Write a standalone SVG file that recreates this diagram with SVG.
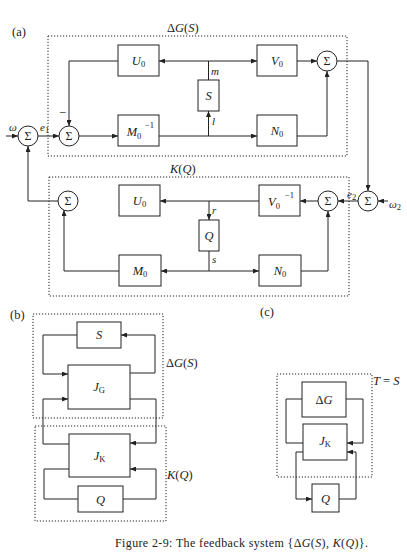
<svg xmlns="http://www.w3.org/2000/svg" width="407" height="559" viewBox="0 0 407 559">
<defs>
<marker id="ah" markerWidth="7" markerHeight="5" refX="6" refY="2.5" orient="auto" markerUnits="userSpaceOnUse">
<path d="M0,0 L6,2.5 L0,5 z" fill="#222"/>
</marker>
<style>
.blk{fill:#fff;stroke:#222;stroke-width:1}
.dot{fill:none;stroke:#222;stroke-width:1;stroke-dasharray:1.2 1.8}
.ln{fill:none;stroke:#222;stroke-width:1}
.ar{fill:none;stroke:#222;stroke-width:1;marker-end:url(#ah)}
.sum{fill:#fff;stroke:#222;stroke-width:1}
text{font-family:"Liberation Serif","DejaVu Serif",serif;fill:#222}
.lb{font-size:12.5px;font-style:italic;text-anchor:middle}
.sg{font-size:12px;text-anchor:middle}
.sm{font-size:11px;font-style:italic}
.sub{font-size:8.5px;font-style:normal}
.tl{font-size:12.5px}
</style>
</defs>
<rect width="407" height="559" fill="#fff"/>

<text class="tl" x="12" y="36">(a)</text>
<text class="tl" x="10" y="319">(b)</text>
<text class="tl" x="260" y="316">(c)</text>

<g id="frames">
<rect class="dot" x="48" y="36" width="299" height="120"/>
<rect class="dot" x="49" y="177" width="300" height="119"/>
<rect class="dot" x="33" y="314" width="130" height="104"/>
<rect class="dot" x="35" y="426" width="131" height="95"/>
<rect class="dot" x="277" y="374" width="95" height="103"/>
<text class="tl" x="167" y="32"><tspan>Δ</tspan><tspan font-style="italic">G</tspan>(<tspan font-style="italic">S</tspan>)</text>
<text class="tl" x="170" y="173"><tspan font-style="italic">K</tspan>(<tspan font-style="italic">Q</tspan>)</text>
<text class="tl" x="166" y="367"><tspan>Δ</tspan><tspan font-style="italic">G</tspan>(<tspan font-style="italic">S</tspan>)</text>
<text class="tl" x="167" y="479"><tspan font-style="italic">K</tspan>(<tspan font-style="italic">Q</tspan>)</text>
<text class="tl" x="373" y="385"><tspan font-style="italic">T</tspan> = <tspan font-style="italic">S</tspan></text>
</g>

<g id="connectors">
<polyline class="ln" points="208.5,80 208.5,61"/>
<polyline class="ar" points="208.5,61 159,61"/>
<polyline class="ar" points="208.5,61 257,61"/>
<polyline class="ar" points="118,61 69,61 69,126"/>
<polyline class="ar" points="6,136 18,136"/>
<polyline class="ar" points="38,136 59,136"/>
<polyline class="ar" points="79,136 118,136"/>
<polyline class="ar" points="159,136 257,136"/>
<polyline class="ar" points="208.5,136 208.5,111"/>
<polyline class="ar" points="297,61 317,61"/>
<polyline class="ar" points="297,136 327,136 327,71"/>
<polyline class="ar" points="337,61 368,61 368,191"/>
<polyline class="ar" points="388,201 378,201"/>
<polyline class="ar" points="358,201 338,201"/>
<polyline class="ar" points="318,201 300,201"/>
<polyline class="ar" points="259,201 160,201"/>
<polyline class="ar" points="209,201 209,220"/>
<polyline class="ln" points="209,251 209,271"/>
<polyline class="ar" points="209,271 161,271"/>
<polyline class="ar" points="209,271 259,271"/>
<polyline class="ar" points="301,271 328,271 328,211"/>
<polyline class="ar" points="119,271 64,271 64,210"/>
<polyline class="ar" points="58,201 28,201 28,146"/>
<polyline class="ar" points="77,335 43,335 43,374 68,374"/>
<polyline class="ar" points="130,373 155,373 155,335 121,335"/>
<polyline class="ar" points="69,444 43,444 43,399 68,399"/>
<polyline class="ar" points="130,399 156,399 156,443 130,443"/>
<polyline class="ln" points="69,469 44,469 44,499 78,499"/>
<polyline class="ar" points="123,499 156,499 156,469 130,469"/>
<polyline class="ln" points="302,399 286,399 286,443 303,443"/>
<polyline class="ar" points="346,399 363,399 363,443 347,443"/>
<polyline class="ar" points="303,452 296,452 296,499 312,499"/>
<polyline class="ar" points="339,499 356,499 356,452 347,452"/>
</g>

<g id="signals">
<text class="sm" x="9" y="131">ω</text>
<text class="sm" x="40" y="131">e<tspan class="sub" dy="2">1</tspan></text>
<text class="tl" x="59" y="117">−</text>
<text class="sm" x="211" y="75">m</text>
<text class="sm" x="212" y="125">l</text>
<text class="sm" x="212" y="214">r</text>
<text class="sm" x="212" y="263">s</text>
<text class="sm" x="347" y="198">e<tspan class="sub" dy="2">2</tspan></text>
<text class="sm" x="389" y="208">ω<tspan class="sub" dy="2">2</tspan></text>
</g>

<g id="sum_outer1"><circle class="sum" cx="28" cy="136" r="10"/><text class="sg" x="28" y="140">Σ</text></g>
<g id="sum_in1"><circle class="sum" cx="69" cy="136" r="10"/><text class="sg" x="69" y="140">Σ</text></g>
<g id="sum_top"><circle class="sum" cx="327" cy="61" r="10"/><text class="sg" x="327" y="65">Σ</text></g>
<g id="sum_outer2"><circle class="sum" cx="368" cy="201" r="10"/><text class="sg" x="368" y="205">Σ</text></g>
<g id="sum_in2"><circle class="sum" cx="328" cy="201" r="10"/><text class="sg" x="328" y="205">Σ</text></g>
<g id="sum_left"><circle class="sum" cx="68" cy="201" r="10"/><text class="sg" x="68" y="205">Σ</text></g>

<g id="U0a"><rect class="blk" x="118" y="45" width="41" height="31"/><text class="lb" x="138.5" y="65">U<tspan class="sub" dy="2">0</tspan></text></g>
<g id="V0a"><rect class="blk" x="257" y="45" width="40" height="31"/><text class="lb" x="277" y="65">V<tspan class="sub" dy="2">0</tspan></text></g>
<g id="Sa"><rect class="blk" x="198" y="80" width="21" height="31"/><text class="lb" x="208.5" y="100">S</text></g>
<g id="M0inv"><rect class="blk" x="118" y="115" width="41" height="31"/><text class="lb" x="134" y="136">M<tspan class="sub" dy="2.5">0</tspan></text><text class="sub" x="145" y="128">−1</text></g>
<g id="N0a"><rect class="blk" x="257" y="115" width="40" height="31"/><text class="lb" x="277" y="135">N<tspan class="sub" dy="2">0</tspan></text></g>
<g id="U0k"><rect class="blk" x="119" y="185" width="41" height="31"/><text class="lb" x="139.5" y="205">U<tspan class="sub" dy="2">0</tspan></text></g>
<g id="V0inv"><rect class="blk" x="259" y="185" width="41" height="31"/><text class="lb" x="274" y="206">V<tspan class="sub" dy="2.5">0</tspan></text><text class="sub" x="285" y="198">−1</text></g>
<g id="Qa"><rect class="blk" x="199" y="220" width="20" height="31"/><text class="lb" x="209" y="240">Q</text></g>
<g id="M0k"><rect class="blk" x="119" y="255" width="42" height="31"/><text class="lb" x="140" y="275">M<tspan class="sub" dy="2">0</tspan></text></g>
<g id="N0k"><rect class="blk" x="259" y="255" width="42" height="31"/><text class="lb" x="280" y="275">N<tspan class="sub" dy="2">0</tspan></text></g>

<g id="Sb"><rect class="blk" x="77" y="322" width="44" height="26"/><text class="lb" x="99" y="339">S</text></g>
<g id="JG"><rect class="blk" x="68" y="365" width="62" height="44"/><text class="lb" x="99" y="391">J<tspan class="sub" font-style="italic" dy="2">G</tspan></text></g>
<g id="JKb"><rect class="blk" x="69" y="434" width="61" height="43"/><text class="lb" x="99.5" y="460">J<tspan class="sub" font-style="italic" dy="2">K</tspan></text></g>
<g id="Qb"><rect class="blk" x="78" y="486" width="45" height="26"/><text class="lb" x="100.5" y="504">Q</text></g>

<g id="DGc"><rect class="blk" x="302" y="382" width="44" height="35"/><text class="lb" x="324" y="404"><tspan font-style="normal">Δ</tspan>G</text></g>
<g id="JKc"><rect class="blk" x="303" y="424" width="44" height="36"/><text class="lb" x="325" y="445">J<tspan class="sub" font-style="italic" dy="2">K</tspan></text></g>
<g id="Qc"><rect class="blk" x="312" y="484" width="27" height="28"/><text class="lb" x="325.5" y="503">Q</text></g>

<text x="115" y="547" font-size="12" textLength="253" lengthAdjust="spacing">Figure 2-9: The feedback system {Δ<tspan font-style="italic">G</tspan>(<tspan font-style="italic">S</tspan>), <tspan font-style="italic">K</tspan>(<tspan font-style="italic">Q</tspan>)}.</text>
</svg>
